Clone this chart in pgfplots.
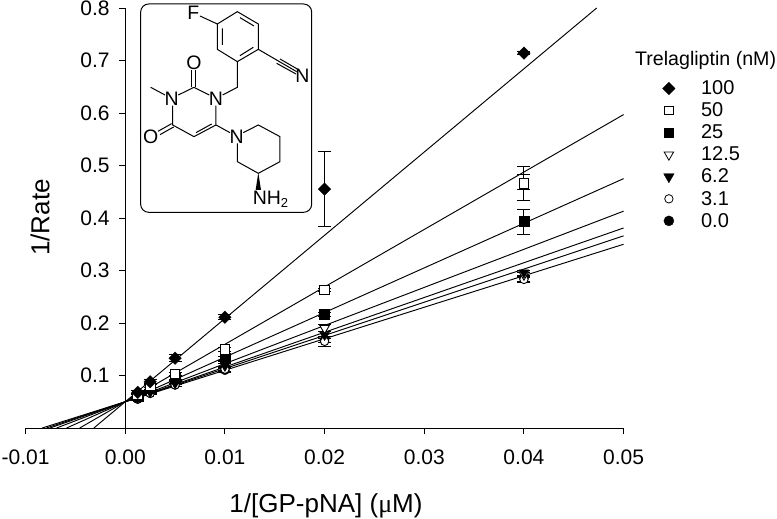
\documentclass[border=0pt]{standalone}
\usepackage{pgfplots}
\pgfplotsset{compat=1.18}
\usepackage{fontspec}
\setmainfont{Liberation Sans}
\newfontfamily\serifmu{Liberation Serif}
\pgfplotsset{
  ser/.style={forget plot, only marks, black, error bars/y dir=both, error bars/y explicit, error bars/error bar style={line width=0.9pt,black},
     error bars/error mark options={rotate=90,mark size=6.5pt,line width=0.9pt,black}},
  fit/.style={forget plot, black, line width=0.95pt, no marks},
}
\begin{document}
\begin{tikzpicture}
\path[use as bounding box] (0,0) rectangle (777pt,519pt);
\begin{axis}[
  at={(25.6pt,91pt)}, anchor=south west,
  width=598pt, height=420pt, scale only axis,
  xmin=-0.01, xmax=0.05, ymin=0, ymax=0.8,
  axis x line=bottom, axis y line=middle,
  axis line style={-, line width=0.95pt},
  tick style={line width=0.95pt, black},
  tick align=outside, major tick length=6.5pt,
  scaled x ticks=false,
  xtick={-0.01,0,0.01,0.02,0.03,0.04,0.05},
  ytick={0.1,0.2,0.3,0.4,0.5,0.6,0.7,0.8},
  xticklabels={-0.01,0.00,0.01,0.02,0.03,0.04,0.05},
  yticklabels={0.1,0.2,0.3,0.4,0.5,0.6,0.7,0.8},
  tick label style={font=\fontsize{21}{23}\selectfont, inner sep=0pt},
  xticklabel style={yshift=-15pt},
  yticklabel style={xshift=-9pt},
  clip=false,
  legend style={draw=none, fill=none, font=\fontsize{20}{21}\selectfont,
    at={(1.065,0.832)}, anchor=north west, inner sep=0pt, row sep=2.6pt,
    /tikz/every odd column/.append style={column sep=24pt}},
  legend cell align=left,
]
% regression lines
\addplot[fit] coordinates {(-0.00833,0) (0.05,0.350)};
\addplot[fit] coordinates {(-0.00791,0) (0.05,0.366)};
\addplot[fit] coordinates {(-0.00755,0) (0.05,0.381)};
\addplot[fit] coordinates {(-0.00689,0) (0.05,0.413)};
\addplot[fit] coordinates {(-0.00588,0) (0.05,0.475)};
\addplot[fit] coordinates {(-0.00457,0) (0.05,0.597)};
\addplot[fit] coordinates {(-0.00315,0) (0.0473,0.800)};
% data
\addplot[ser, mark=*, mark size=4.5pt] table[x=x,y=y,y error=e] {
x y e
0.00125 0.055 0.003
0.0025 0.066 0.003
0.005 0.082 0.003
0.01 0.110 0.004
0.02 0.168 0.006
0.04 0.285 0.005
};
\addplot[ser, mark=*, mark size=4.2pt, mark options={fill=white,line width=0.9pt}] table[x=x,y=y,y error=e] {
x y e
0.00125 0.055 0.003
0.0025 0.066 0.003
0.005 0.082 0.003
0.01 0.112 0.004
0.02 0.165 0.009
0.04 0.283 0.006
};
\addplot[ser, mark=triangle*, mark size=5.5pt, mark options={rotate=180,fill=white,line width=0.9pt}] table[x=x,y=y,y error=e] {
x y e
0.00125 0.058 0.003
0.0025 0.070 0.003
0.005 0.087 0.003
0.01 0.122 0.004
0.02 0.190 0.007
0.04 0.292 0.005
};
\addplot[ser, mark=triangle*, mark size=5.5pt, mark options={rotate=180}] table[x=x,y=y,y error=e] {
x y e
0.00125 0.058 0.003
0.0025 0.068 0.003
0.005 0.085 0.003
0.01 0.118 0.004
0.02 0.177 0.006
0.04 0.296 0.005
};
\addplot[ser, mark=square*, mark size=5pt] table[x=x,y=y,y error=e] {
x y e
0.00125 0.060 0.003
0.0025 0.075 0.003
0.005 0.095 0.003
0.01 0.133 0.004
0.02 0.217 0.004
0.04 0.393 0.024
};
% second pair of caps around the 50 nM point at 0.04
\addplot[ser, mark=none] table[x=x,y=y,y error=e] {
x y e
0.04 0.469 0.014
};
\addplot[ser, mark=square*, mark size=4.8pt, mark options={fill=white,line width=0.9pt}] table[x=x,y=y,y error=e] {
x y e
0.00125 0.063 0.003
0.0025 0.080 0.003
0.005 0.103 0.003
0.01 0.150 0.004
0.02 0.263 0.003
0.04 0.466 0.033
};
\addplot[ser, mark=square*, mark size=4.4pt, mark options={rotate=45}] table[x=x,y=y,y error=e] {
x y e
0.00125 0.068 0.004
0.0025 0.088 0.004
0.005 0.133 0.007
0.01 0.211 0.005
0.02 0.455 0.071
0.04 0.714 0.003
};
% legend
\addlegendimage{only marks, black, mark=square*, mark size=4.4pt, mark options={rotate=45}}
\addlegendentry{100}
\addlegendimage{only marks, black, mark=square*, mark size=4.3pt, mark options={fill=white,line width=0.8pt}}
\addlegendentry{50}
\addlegendimage{only marks, black, mark=square*, mark size=4.5pt}
\addlegendentry{25}
\addlegendimage{only marks, black, mark=triangle*, mark size=5.5pt, mark options={rotate=180,fill=white,line width=0.8pt}}
\addlegendentry{12.5}
\addlegendimage{only marks, black, mark=triangle*, mark size=6pt, mark options={rotate=180}}
\addlegendentry{6.2}
\addlegendimage{only marks, black, mark=*, mark size=4.2pt, mark options={fill=white,line width=0.8pt}}
\addlegendentry{3.1}
\addlegendimage{only marks, black, mark=*, mark size=5pt}
\addlegendentry{0.0}
\end{axis}
% axis titles and legend heading
\node[rotate=90, font=\fontsize{26}{28}\selectfont] at (40pt,301.5pt) {1/Rate};
\node[font=\fontsize{26}{28}\selectfont] at (326pt,13pt) {1/[GP-pNA] ({\serifmu μ}M)};
\node[font=\fontsize{19.6}{22}\selectfont, anchor=west, inner sep=0pt] at (635pt,459pt) {Trelagliptin (nM)};
% structure inset
\begin{scope}[shift={(130pt,519pt)}, x=0.3333pt, y=-0.3333pt, line width=1pt]
\draw[rounded corners=8pt] (32,12) rectangle (545,637);
\draw (210,48)--(262,72);
\draw (262,72)--(322,35)--(385,72)--(385,148)--(322,185)--(262,148)--cycle;
\draw (277,85)--(277,135) (330,53)--(372,78) (370,142)--(330,167);
\draw (385,148)--(445,183) (440,190)--(498,222) (450,177)--(507,210) (445,183)--(500,215);
\draw (322,185)--(322,262)--(278,285);
\draw (238,285)--(192,262)--(145,285);
\draw (186,262)--(186,210) (198,262)--(198,210);
\draw (105,285)--(62,262);
\draw (128,317)--(128,375)--(192,410)--(258,375)--(258,317);
\draw (198,398)--(245,372);
\draw (125,371)--(84,394) (131,381)--(90,404);
\draw (258,375)--(300,398);
\draw (340,398)--(385,375)--(450,410)--(450,485)--(385,520)--(322,485)--(322,430);
\fill (385,518)--(377,570)--(393,570)--cycle;
\begin{scope}[every node/.style={font=\fontsize{19.5}{21}\selectfont, inner sep=0pt}]
\node at (190,38) {F};
\node at (517,226) {N};
\node at (192,188) {O};
\node at (258,296) {N};
\node at (125,296) {N};
\node at (62,410) {O};
\node at (320,410) {N};
\node[anchor=west] at (367,598) {NH\raisebox{-3pt}{\fontsize{13}{14}\selectfont 2}};
\end{scope}
\end{scope}
\end{tikzpicture}
\end{document}
